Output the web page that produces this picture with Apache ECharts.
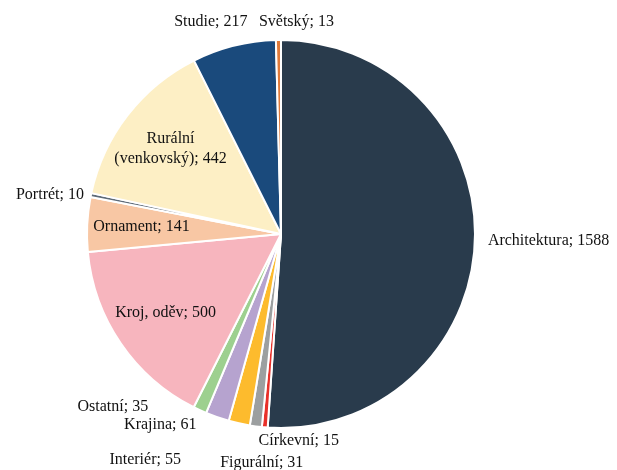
<!DOCTYPE html>
<html>
<head>
<meta charset="utf-8">
<script src="https://cdn.jsdelivr.net/npm/echarts@6/dist/echarts.min.js"></script>
<style>
html,body{margin:0;padding:0;background:#fff;}
#c{width:617px;height:470px;}
</style>
</head>
<body>
<div id="c"></div>
<script>
// ---- data ----
const categories = ['Architektura','Církevní','Figurální','Interiér','Krajina','Ostatní','Kroj, oděv','Ornament','Portrét','Rurální (venkovský)','Studie','Světský'];
const values = [1588, 15, 31, 55, 61, 35, 500, 141, 10, 442, 217, 13];

// ---- style ----
const colors = ['#293B4C','#E8302A','#9C9FA0','#FDBB2D','#B6A3CF','#9DD08F','#F7B5BE','#F8C7A4','#5E6B78','#FDEFC5','#1A4A7C','#E07A3A'];
const CX = 281, CY = 234, R = 194;
// label placement: k = radial factor, dx/dy nudges, align
const labelPlace = {
  'Architektura': {k:1, dx:13, dy:0, align:'left'},
  'Církevní': {k:1, dx:34, dy:13},
  'Figurální': {k:1, dx:6, dy:36},
  'Interiér': {k:1, dx:-94, dy:36},
  'Krajina': {k:1, dx:-57, dy:8},
  'Ostatní': {k:1, dx:-87, dy:-3},
  'Kroj, oděv': {k:0.72, dx:0, dy:0},
  'Ornament': {k:0.72, dx:0, dy:0},
  'Portrét': {k:1, dx:-7, dy:0, align:'right'},
  'Rurální (venkovský)': {k:0.72, dx:0, dy:0},
  'Studie': {k:1, dx:-23, dy:-24},
  'Světský': {k:1, dx:18, dy:-18}
};

const total = values.reduce((a,b)=>a+b,0);
const midAngles = [];
let acc = 0;
values.forEach(v => { midAngles.push((acc + v/2) / total * 2 * Math.PI); acc += v; });

const chart = echarts.init(document.getElementById('c'), null, {renderer:'canvas'});
chart.setOption({
  animation: false,
  backgroundColor: '#fff',
  series: [{
    type: 'pie',
    center: [CX, CY],
    radius: [0, R],
    startAngle: 90,
    clockwise: true,
    avoidLabelOverlap: false,
    data: categories.map((n,i)=>({name:n, value:values[i], itemStyle:{color:colors[i]}})),
    itemStyle: {borderColor:'#fff', borderWidth:2},
    label: {
      show: true,
      position: 'outside',
      fontFamily: '"Liberation Serif", "Times New Roman", serif',
      fontSize: 16,
      color: '#111',
      lineHeight: 20,
      align: 'center',
      formatter: p => (p.name + '; ' + p.value).replace(' (', '\n(')
    },
    labelLine: {show: false},
    labelLayout: function (params) {
      const i = params.dataIndex;
      const pl = labelPlace[categories[i]];
      const a = midAngles[i];
      const x = CX + pl.k * R * Math.sin(a) + pl.dx;
      const y = CY - pl.k * R * Math.cos(a) + pl.dy;
      return {x: x, y: y, align: pl.align || 'center', verticalAlign: 'middle'};
    }
  }]
});
</script>
</body>
</html>
